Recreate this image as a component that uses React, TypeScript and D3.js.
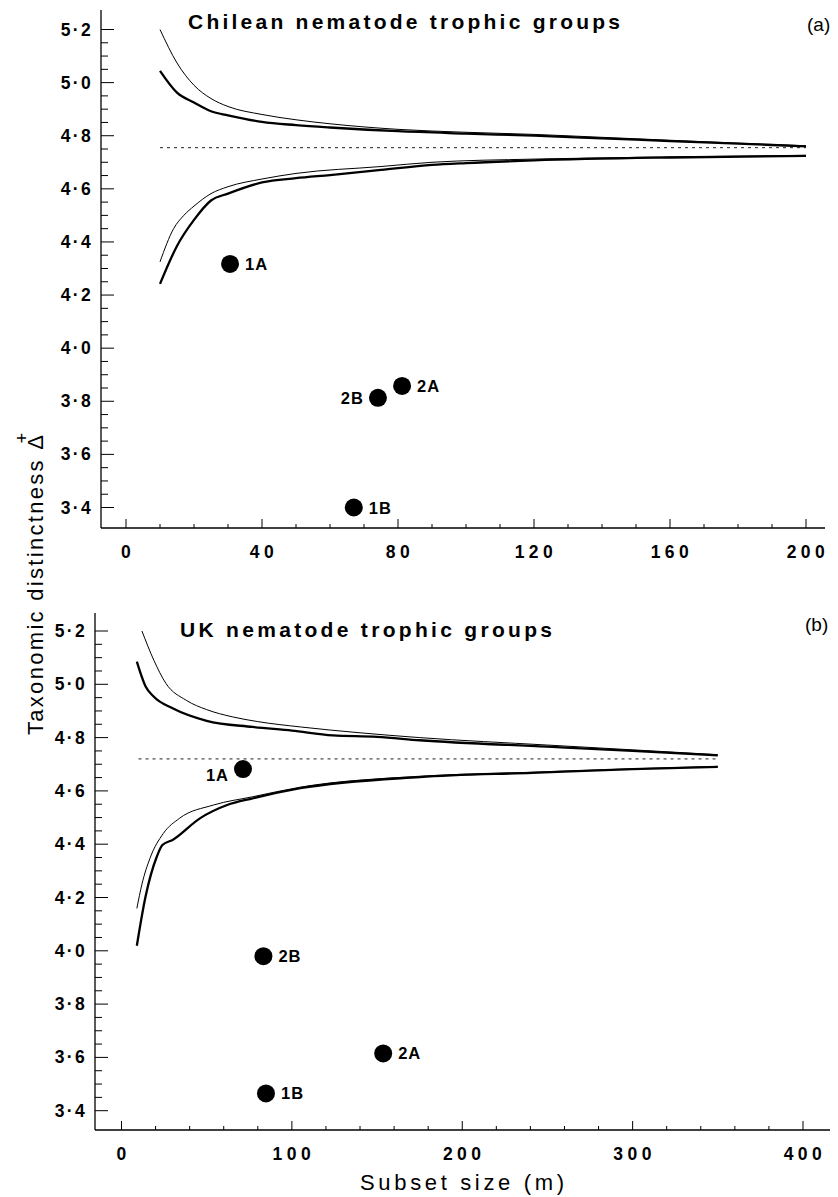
import React from "react";
import * as d3 from "d3";

// ---------- DATA ----------
// Panel (a): Chilean nematode trophic groups  [subset size m, Delta+]
const chileUpperThin: [number, number][] = [
  [10, 5.2], [15, 5.074], [20, 4.99], [25, 4.94], [30, 4.91], [40, 4.88], [50, 4.86],
  [60, 4.845], [80, 4.824], [100, 4.813], [120, 4.805], [140, 4.794], [160, 4.783],
  [180, 4.772], [200, 4.762],
];
const chileUpperThick: [number, number][] = [
  [10, 5.044], [15, 4.962], [20, 4.925], [25, 4.892], [30, 4.877], [40, 4.852], [50, 4.84],
  [60, 4.831], [80, 4.817], [100, 4.808], [120, 4.8], [140, 4.79], [160, 4.78],
  [180, 4.77], [200, 4.76],
];
const chileLowerThin: [number, number][] = [
  [10, 4.325], [14, 4.45], [17, 4.5], [20, 4.535], [25, 4.582], [30, 4.608], [40, 4.637],
  [50, 4.658], [75, 4.684], [90, 4.7], [120, 4.712], [160, 4.72], [200, 4.726],
];
const chileLowerThick: [number, number][] = [
  [10, 4.242], [15, 4.385], [20, 4.483], [25, 4.556], [30, 4.582], [40, 4.624], [50, 4.64],
  [60, 4.652], [75, 4.671], [90, 4.69], [100, 4.697], [120, 4.707], [160, 4.718], [200, 4.724],
];
const chileMean: [number, number][] = [[10, 4.755], [200, 4.755]];
const chileCategories = ["1A", "2A", "1B", "2B"];
const chileSubsetSize = [30.6, 81.2, 67, 74.1];
const chileDelta = [4.317, 3.858, 3.4, 3.813];

// Panel (b): UK nematode trophic groups
const ukUpperThin: [number, number][] = [
  [12, 5.2], [19, 5.09], [26, 5.004], [38, 4.94], [50, 4.905], [65, 4.878], [80, 4.86],
  [105, 4.84], [140, 4.818], [175, 4.8], [250, 4.772], [300, 4.754], [350, 4.736],
];
const ukUpperThick: [number, number][] = [
  [9, 5.085], [14, 4.994], [19, 4.953], [30, 4.91], [50, 4.863], [77, 4.84], [100, 4.826],
  [124, 4.808], [150, 4.803], [175, 4.79], [250, 4.766], [300, 4.75], [350, 4.733],
];
const ukLowerThin: [number, number][] = [
  [9, 4.159], [12, 4.25], [16.7, 4.347], [24.5, 4.44], [34, 4.497], [54, 4.547], [77, 4.578],
  [105, 4.614], [175, 4.655], [241, 4.67], [300, 4.683], [350, 4.692],
];
const ukLowerThick: [number, number][] = [
  [9, 4.019], [14, 4.2], [20.7, 4.353], [24, 4.397], [30, 4.416], [46, 4.497], [62, 4.547],
  [77, 4.572], [105, 4.61], [175, 4.652], [241, 4.668], [300, 4.682], [350, 4.69],
];
const ukMean: [number, number][] = [[10, 4.72], [350, 4.72]];
const ukCategories = ["1A", "2B", "2A", "1B"];
const ukSubsetSize = [71.3, 83.3, 153.6, 84.8];
const ukDelta = [4.682, 3.98, 3.615, 3.465];

const yTickValues = [3.4, 3.6, 3.8, 4.0, 4.2, 4.4, 4.6, 4.8, 5.0, 5.2];
const chileXTicks = [0, 40, 80, 120, 160, 200];
const ukXTicks = [0, 100, 200, 300, 400];

// ---------- STYLE ----------
const FONT = "'Liberation Sans', Arial, Helvetica, sans-serif";
const fmt = (v: number) => d3.format(".1f")(v).replace(".", "\u00b7");

type Panel = {
  title: string;
  tag: string;
  titleX: number;
  titleY: number;
  titleLen: number;
  tagX: number;
  tagY: number;
  x: d3.ScaleLinear<number, number>;
  y: d3.ScaleLinear<number, number>;
  axisX: number;
  axisY: number;
  axisRight: number;
  axisTop: number;
  xTicks: number[];
  xMinorStep: number;
  upperThin: [number, number][];
  upperThick: [number, number][];
  lowerThin: [number, number][];
  lowerThick: [number, number][];
  mean: [number, number][];
  cats: string[];
  ms: number[];
  ds: number[];
  leftLabels: string[];
  labelDy: Record<string, number>;
};

function PanelView({ p }: { p: Panel }) {
  const line = d3
    .line<[number, number]>()
    .x((d) => p.x(d[0]))
    .y((d) => p.y(d[1]))
    .curve(d3.curveMonotoneX);
  const minorY = d3.range(3.4, 5.2001, 0.05);
  const xMax = p.xTicks[p.xTicks.length - 1];
  const minorX = d3.range(0, xMax + 0.001, p.xMinorStep);
  return (
    <g>
      <text
        x={p.titleX}
        y={p.titleY}
        fontFamily={FONT}
        fontWeight="bold"
        fontSize={21}
        textLength={p.titleLen}
        lengthAdjust="spacing"
      >
        {p.title}
      </text>
      <text x={p.tagX} y={p.tagY} fontFamily={FONT} fontSize={19}>
        {p.tag}
      </text>
      <line x1={p.axisX} x2={p.axisX} y1={p.axisTop} y2={p.axisY} stroke="#000" strokeWidth={1.3} />
      <line x1={p.axisX} x2={p.axisRight} y1={p.axisY} y2={p.axisY} stroke="#000" strokeWidth={1.3} />
      {minorY.map((v, i) => {
        const major = Math.abs(Math.round(v * 5) - v * 5) < 1e-6;
        return (
          <line
            key={"ym" + i}
            x1={p.axisX}
            x2={p.axisX + (major ? 13 : 7)}
            y1={p.y(v)}
            y2={p.y(v)}
            stroke="#000"
            strokeWidth={1}
          />
        );
      })}
      {yTickValues.map((v) => (
        <text
          key={"yl" + v}
          x={p.axisX - 8}
          y={p.y(v) + 6}
          textAnchor="end"
          fontFamily={FONT}
          fontWeight="bold"
          fontSize={17.5}
          letterSpacing={2.3}
        >
          {fmt(v)}
        </text>
      ))}
      {minorX.map((v, i) => {
        const major = p.xTicks.some((t) => Math.abs(t - v) < 1e-6);
        return (
          <line
            key={"xm" + i}
            x1={p.x(v)}
            x2={p.x(v)}
            y1={p.axisY}
            y2={p.axisY - (major ? 9 : 4)}
            stroke="#000"
            strokeWidth={1}
          />
        );
      })}
      {p.xTicks.map((v) => (
        <text
          key={"xl" + v}
          x={p.x(v) + 2}
          y={p.axisY + 30}
          textAnchor="middle"
          fontFamily={FONT}
          fontWeight="bold"
          fontSize={17.5}
          letterSpacing={4.5}
        >
          {String(v)}
        </text>
      ))}
      <path d={line(p.mean) || ""} fill="none" stroke="#222" strokeWidth={1} strokeDasharray="3,4" />
      <path d={line(p.upperThin) || ""} fill="none" stroke="#000" strokeWidth={1} />
      <path d={line(p.lowerThin) || ""} fill="none" stroke="#000" strokeWidth={1} />
      <path d={line(p.upperThick) || ""} fill="none" stroke="#000" strokeWidth={2.3} />
      <path d={line(p.lowerThick) || ""} fill="none" stroke="#000" strokeWidth={2.3} />
      {p.cats.map((c, i) => {
        const cx = p.x(p.ms[i]);
        const cy = p.y(p.ds[i]);
        const left = p.leftLabels.includes(c);
        return (
          <g key={c}>
            <circle cx={cx} cy={cy} r={9} fill="#000" />
            <text
              x={left ? cx - 14 : cx + 15}
              y={cy + (p.labelDy[c] ?? 6)}
              textAnchor={left ? "end" : "start"}
              fontFamily={FONT}
              fontWeight="bold"
              fontSize={16.5}
              letterSpacing={1}
            >
              {c}
            </text>
          </g>
        );
      })}
    </g>
  );
}

export default function App() {
  const top: Panel = {
    title: "Chilean nematode trophic groups",
    tag: "(a)",
    titleX: 188,
    titleY: 29,
    titleLen: 432,
    tagX: 807,
    tagY: 31,
    x: d3.scaleLinear().domain([0, 200]).range([126, 806]),
    y: d3.scaleLinear().domain([3.4, 5.2]).range([507.5, 29.5]),
    axisX: 101,
    axisY: 528,
    axisRight: 825,
    axisTop: 10,
    xTicks: chileXTicks,
    xMinorStep: 10,
    upperThin: chileUpperThin,
    upperThick: chileUpperThick,
    lowerThin: chileLowerThin,
    lowerThick: chileLowerThick,
    mean: chileMean,
    cats: chileCategories,
    ms: chileSubsetSize,
    ds: chileDelta,
    leftLabels: ["2B"],
    labelDy: {},
  };
  const bottom: Panel = {
    title: "UK nematode trophic groups",
    tag: "(b)",
    titleX: 180,
    titleY: 637,
    titleLen: 372,
    tagX: 805,
    tagY: 631,
    x: d3.scaleLinear().domain([0, 400]).range([121.5, 803]),
    y: d3.scaleLinear().domain([3.4, 5.2]).range([1110.7, 631]),
    axisX: 95,
    axisY: 1130,
    axisRight: 830,
    axisTop: 613,
    xTicks: ukXTicks,
    xMinorStep: 20,
    upperThin: ukUpperThin,
    upperThick: ukUpperThick,
    lowerThin: ukLowerThin,
    lowerThick: ukLowerThick,
    mean: ukMean,
    cats: ukCategories,
    ms: ukSubsetSize,
    ds: ukDelta,
    leftLabels: ["1A"],
    labelDy: { "1A": 12 },
  };
  return (
    <svg
      width={838}
      height={1197}
      viewBox="0 0 838 1197"
      style={{ position: "absolute", left: 0, top: 0, background: "#fff" }}
    >
      <rect x={0} y={0} width={838} height={1197} fill="#fff" />
      <PanelView p={top} />
      <PanelView p={bottom} />
      <g transform="translate(43,735) rotate(-90)">
        <text
          x={0}
          y={0}
          fontFamily={FONT}
          fontSize={22}
          textLength={300}
          lengthAdjust="spacing"
        >
          Taxonomic distinctness Δ
        </text>
        <text x={297} y={-15} textAnchor="middle" fontFamily={FONT} fontSize={18}>
          +
        </text>
      </g>
      <text
        x={462}
        y={1190}
        textAnchor="middle"
        fontFamily={FONT}
        fontSize={22}
        textLength={204}
        lengthAdjust="spacing"
      >
        Subset size (m)
      </text>
    </svg>
  );
}
